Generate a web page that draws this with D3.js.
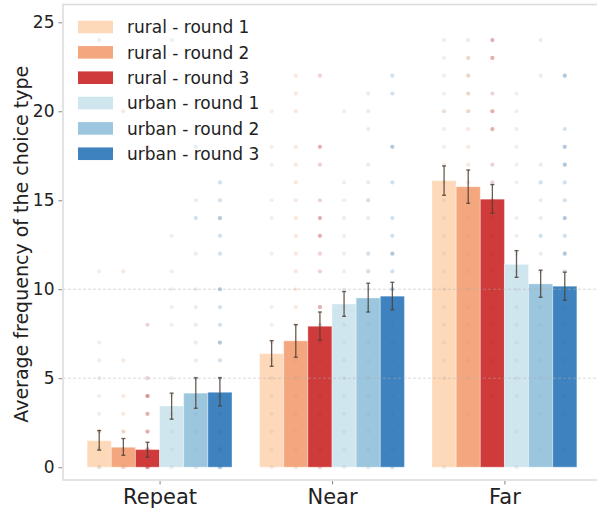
<!DOCTYPE html>
<html>
<head>
<meta charset="utf-8">
<script src="https://cdn.jsdelivr.net/npm/d3@7"></script>
<style>
  body { margin: 0; background: #fff; }
  svg { display: block; font-family: "DejaVu Sans", sans-serif; }
</style>
</head>
<body>
<svg id="chart" width="597" height="509"></svg>
<script>
// choice types on the x axis
const categories = ["Repeat", "Near", "Far"];
const seriesNames = ["rural - round 1", "rural - round 2", "rural - round 3",
                     "urban - round 1", "urban - round 2", "urban - round 3"];
const seriesColors = ["#fdd9b9", "#f4a77e", "#cf3a3b", "#d0e6ee", "#9bc6de", "#3e83bf"];

// mean values, one array per choice type (series order as above)
const meanRepeat = [1.49, 1.12, 0.99, 3.44, 4.16, 4.21];
const meanNear   = [6.38, 7.10, 7.92, 9.17, 9.51, 9.61];
const meanFar    = [16.10, 15.76, 15.06, 11.40, 10.30, 10.17];

// error bar ends
const loRepeat = [0.96, 0.67, 0.56, 2.70, 3.31, 3.44];
const hiRepeat = [2.06, 1.61, 1.40, 4.16, 5.02, 5.02];
const loNear   = [5.67, 6.18, 7.13, 8.48, 8.72, 8.84];
const hiNear   = [7.11, 8.01, 8.72, 9.87, 10.34, 10.39];
const loFar    = [15.28, 14.83, 14.27, 10.67, 9.55, 9.38];
const hiFar    = [16.93, 16.70, 15.88, 12.17, 11.07, 10.96];

// individual counts (repeated values = overlapping points)
const dotsRepeat = [
  [0, 0, 1, 1, 2, 2, 3, 4, 5, 6, 7, 11, 24],
  [0, 0, 1, 1, 2, 2, 3, 4, 6, 11, 20],
  [0, 0, 0, 1, 1, 2, 2, 3, 3, 4, 4, 4, 5, 8, 18],
  [0, 1, 2, 3, 4, 5, 8, 9, 10, 11, 13, 24],
  [0, 1, 2, 3, 4, 5, 6, 7, 8, 9, 10, 12, 14, 14, 15, 18],
  [0, 0, 1, 1, 1, 2, 2, 3, 3, 4, 4, 5, 6, 7, 7, 8, 9, 10, 10, 12, 13, 14, 14, 15, 16]
];
const dotsNear = [
  [0, 1, 2, 3, 4, 5, 6, 7, 8, 9, 12, 14, 15, 17, 18, 20],
  [0, 1, 2, 3, 4, 5, 6, 7, 8, 9, 10, 11, 12, 13, 14, 15, 16, 17, 18, 20, 21, 22],
  [0, 1, 2, 3, 4, 5, 6, 7, 8, 9, 9, 11, 12, 13, 13, 14, 14, 15, 17, 18, 18, 22],
  [0, 1, 2, 3, 4, 5, 6, 7, 8, 9, 10, 11, 12, 13, 14, 15, 16, 20],
  [0, 1, 2, 3, 4, 5, 6, 7, 8, 9, 10, 11, 11, 12, 12, 14, 15, 15, 16, 17, 19, 20, 21],
  [0, 1, 2, 3, 4, 5, 6, 7, 8, 9, 10, 10, 11, 12, 12, 13, 14, 16, 18, 18, 21, 22]
];
const dotsFar = [
  [0, 5, 6, 7, 8, 9, 10, 11, 12, 13, 14, 15, 16, 17, 18, 19, 20, 20, 21, 22, 23, 24],
  [3, 5, 6, 7, 8, 9, 10, 11, 12, 13, 14, 15, 16, 17, 18, 19, 20, 20, 21, 21, 22, 22, 23, 23, 24],
  [4, 6, 7, 8, 9, 10, 11, 12, 13, 14, 15, 16, 17, 19, 19, 20, 20, 21, 23, 23, 24, 24],
  [0, 2, 4, 5, 6, 7, 8, 9, 10, 11, 12, 13, 14, 16, 17, 18, 19, 20, 21],
  [1, 3, 4, 5, 6, 7, 8, 9, 10, 11, 12, 13, 13, 14, 15, 16, 16, 17, 22, 24],
  [1, 3, 4, 5, 6, 7, 8, 9, 10, 11, 12, 12, 13, 14, 14, 15, 16, 17, 17, 18, 18, 19, 22, 22]
];

const yTicks = [0, 5, 10, 15, 20, 25];
const gridValues = [5, 10];

const means = [meanRepeat, meanNear, meanFar];
const lows = [loRepeat, loNear, loFar];
const highs = [hiRepeat, hiNear, hiFar];
const dots = [dotsRepeat, dotsNear, dotsFar];

const svg = d3.select("#chart");

const plot = { left: 63, right: 601, top: 4.5, bottom: 480 };

const x = d3.scaleLinear().domain([-0.56, categories.length - 1 + 0.56]).range([plot.left, plot.right]);
const y = d3.scaleLinear().domain([-0.72, 26.0]).range([plot.bottom, plot.top]);
const inner = d3.scaleBand().domain(seriesNames).range([-0.42, 0.42]);
const barW = x(inner.bandwidth()) - x(0);

// flatten to one record per bar
const bars = [];
categories.forEach((c, ci) => {
  seriesNames.forEach((s, si) => {
    bars.push({
      cat: c, ci: ci, series: s, si: si,
      mean: means[ci][si], lo: lows[ci][si], hi: highs[ci][si],
      pts: dots[ci][si],
      cx: x(ci + inner(s) + inner.bandwidth() / 2)
    });
  });
});

svg.append("g").selectAll("rect")
  .data(bars).enter().append("rect")
  .attr("x", d => d.cx - barW / 2)
  .attr("width", barW)
  .attr("y", d => y(d.mean))
  .attr("height", d => y(0) - y(d.mean))
  .style("fill", d => seriesColors[d.si])
  .style("stroke", "#fff")
  .style("stroke-opacity", 0.35)
  .style("stroke-width", 1);

// individual points
const dotG = svg.append("g");
bars.forEach(b => {
  dotG.selectAll(null)
    .data(b.pts).enter().append("circle")
    .attr("cx", b.cx)
    .attr("cy", v => y(v))
    .attr("r", 2.1)
    .style("fill", d3.color(seriesColors[b.si]).darker(b.si % 3 === 0 ? 0.6 : 0.3))
    .style("opacity", 0.22);
});

// dashed grid on top of bars
svg.append("g").selectAll("line")
  .data(gridValues).enter().append("line")
  .attr("x1", plot.left).attr("x2", plot.right)
  .attr("y1", d => y(d)).attr("y2", d => y(d))
  .style("stroke", "#b0b0b0")
  .style("stroke-opacity", 0.6)
  .style("stroke-width", 0.8)
  .style("stroke-dasharray", "3,2");

// error bars
const err = svg.append("g").style("stroke", "#4f4034").style("stroke-opacity", 0.85).style("stroke-width", 1.3);
err.selectAll(".v").data(bars).enter().append("line")
  .attr("x1", d => d.cx).attr("x2", d => d.cx)
  .attr("y1", d => y(d.lo)).attr("y2", d => y(d.hi));
err.selectAll(".capl").data(bars).enter().append("line")
  .attr("x1", d => d.cx - 2).attr("x2", d => d.cx + 2)
  .attr("y1", d => y(d.lo)).attr("y2", d => y(d.lo));
err.selectAll(".caph").data(bars).enter().append("line")
  .attr("x1", d => d.cx - 2).attr("x2", d => d.cx + 2)
  .attr("y1", d => y(d.hi)).attr("y2", d => y(d.hi));

// spines
const spine = "#dcdcdc";
svg.append("path")
  .attr("d", `M${plot.right},${plot.top}H${plot.left}V${plot.bottom}H${plot.right}`)
  .style("fill", "none").style("stroke", spine).style("stroke-width", 1.6);

// y axis
const yAxis = svg.append("g")
  .attr("transform", `translate(${plot.left - 1},0)`)
  .call(d3.axisLeft(y).tickValues(yTicks).tickSize(3.5).tickPadding(4));
yAxis.select(".domain").remove();
yAxis.selectAll(".tick line").style("stroke", "#666").style("stroke-width", 0.8);
yAxis.selectAll(".tick text")
  .style("font-size", "17px").style("fill", "#222")
  .style("font-family", "DejaVu Sans, sans-serif");

// x axis
const xAxis = svg.append("g")
  .attr("transform", `translate(0,${plot.bottom + 1})`)
  .call(d3.axisBottom(x).tickValues(d3.range(categories.length)).tickFormat(i => categories[i]).tickSize(3.5).tickPadding(5));
xAxis.select(".domain").remove();
xAxis.selectAll(".tick line").style("stroke", "#666").style("stroke-width", 0.8);
xAxis.selectAll(".tick text")
  .style("font-size", "21px").style("fill", "#222")
  .style("font-family", "DejaVu Sans, sans-serif");

svg.append("text")
  .attr("transform", `translate(21,${(plot.top + plot.bottom) / 2 + 2}) rotate(-90)`)
  .attr("dy", "0.35em")
  .attr("text-anchor", "middle")
  .style("font-size", "19px").style("fill", "#222")
  .text("Average frequency of the choice type");

// legend
const legend = svg.append("g").attr("transform", "translate(78,27)");
const row = legend.selectAll("g").data(seriesNames).enter().append("g")
  .attr("transform", (d, i) => `translate(0,${i * 25.35})`);
row.append("rect")
  .attr("x", 0).attr("y", -6.3).attr("width", 35).attr("height", 12.6)
  .style("fill", (d, i) => seriesColors[i]);
row.append("text")
  .attr("x", 49).attr("y", 6.3)
  .style("font-size", "17px").style("fill", "#222")
  .text(d => d);
</script>
</body>
</html>
